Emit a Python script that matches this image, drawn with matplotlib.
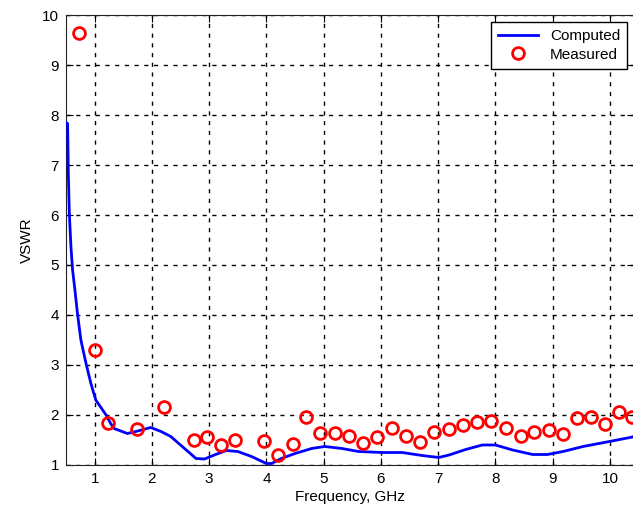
import matplotlib
matplotlib.use('Agg')
import matplotlib.pyplot as plt

# Computed VSWR (blue curve)
comp_freq = [0.5, 0.528, 0.54, 0.558, 0.586, 0.615, 0.656, 0.70, 0.76, 0.85, 0.935, 1.02,
             1.2, 1.28, 1.34, 1.57, 1.72, 1.98, 2.16, 2.33, 2.57, 2.77, 2.92, 3.09, 3.30,
             3.50, 3.74, 4.0, 4.09, 4.26, 4.50, 4.79, 5.02, 5.32, 5.61, 6.02, 6.37,
             6.72, 7.01, 7.19, 7.48, 7.77, 8.0, 8.30, 8.65, 8.91, 9.18, 9.53, 9.99,
             10.35, 10.46]
comp_vswr = [7.85, 7.83, 6.87, 6.03, 5.37, 4.9, 4.5, 4.03, 3.5, 3.03, 2.63, 2.3,
             2.0, 1.83, 1.73, 1.63, 1.67, 1.75, 1.67, 1.57, 1.33, 1.13, 1.12, 1.2, 1.29,
             1.27, 1.17, 1.03, 1.03, 1.13, 1.23, 1.33, 1.37, 1.33, 1.27, 1.25, 1.25,
             1.19, 1.15, 1.2, 1.31, 1.4, 1.4, 1.3, 1.21, 1.21, 1.27, 1.37, 1.47,
             1.55, 1.58]

# Measured VSWR (red circles)
meas_freq = [0.72, 1.0, 1.23, 1.74, 2.21, 2.74, 2.97, 3.21, 3.46, 3.95, 4.21, 4.46,
             4.70, 4.93, 5.19, 5.44, 5.68, 5.93, 6.19, 6.44, 6.68, 6.93, 7.19, 7.44,
             7.68, 7.93, 8.18, 8.44, 8.68, 8.93, 9.18, 9.42, 9.67, 9.91, 10.16, 10.39]
meas_vswr = [9.64, 3.3, 1.84, 1.72, 2.16, 1.5, 1.56, 1.4, 1.5, 1.48, 1.2, 1.42,
             1.96, 1.64, 1.64, 1.58, 1.44, 1.56, 1.74, 1.58, 1.46, 1.66, 1.72, 1.8,
             1.86, 1.88, 1.74, 1.58, 1.66, 1.70, 1.62, 1.94, 1.96, 1.82, 2.06, 1.96]

plt.rcParams['font.family'] = ['Liberation Sans', 'DejaVu Sans']

fig = plt.figure(figsize=(6.33, 5.15), dpi=100)
ax = fig.add_axes([66 / 633, 50 / 515, 568 / 633, 450 / 515])

ax.plot(comp_freq, comp_vswr, color='#0000ff', lw=2, label='Computed', zorder=3)
ax.plot(meas_freq, meas_vswr, 'o', ms=8.5, mfc='none', mec='#ff0000', mew=2,
        label='Measured', zorder=4)

ax.set_xlim(0.5, 10.42)
ax.set_ylim(1, 10)
ax.set_xticks(range(1, 11))
ax.set_yticks(range(1, 11))
ax.grid(True, color='black', linestyle=(0, (3, 4)), linewidth=1)
ax.tick_params(direction='in', top=True, right=True, length=5, labelsize=11, pad=5)
for s in ax.spines.values():
    s.set_color('#222222')

ax.set_xlabel('Frequency, GHz', fontsize=11, labelpad=3)
ax.set_ylabel('VSWR', fontsize=11, labelpad=6)

leg = ax.legend(loc='upper right', bbox_to_anchor=(0.988, 0.984), fancybox=False,
                framealpha=1, edgecolor='black', fontsize=11, borderaxespad=0,
                handlelength=2.6, borderpad=0.45, labelspacing=0.3, handletextpad=0.8)
leg.get_frame().set_linewidth(1)

fig.savefig('out.png', dpi=100)
